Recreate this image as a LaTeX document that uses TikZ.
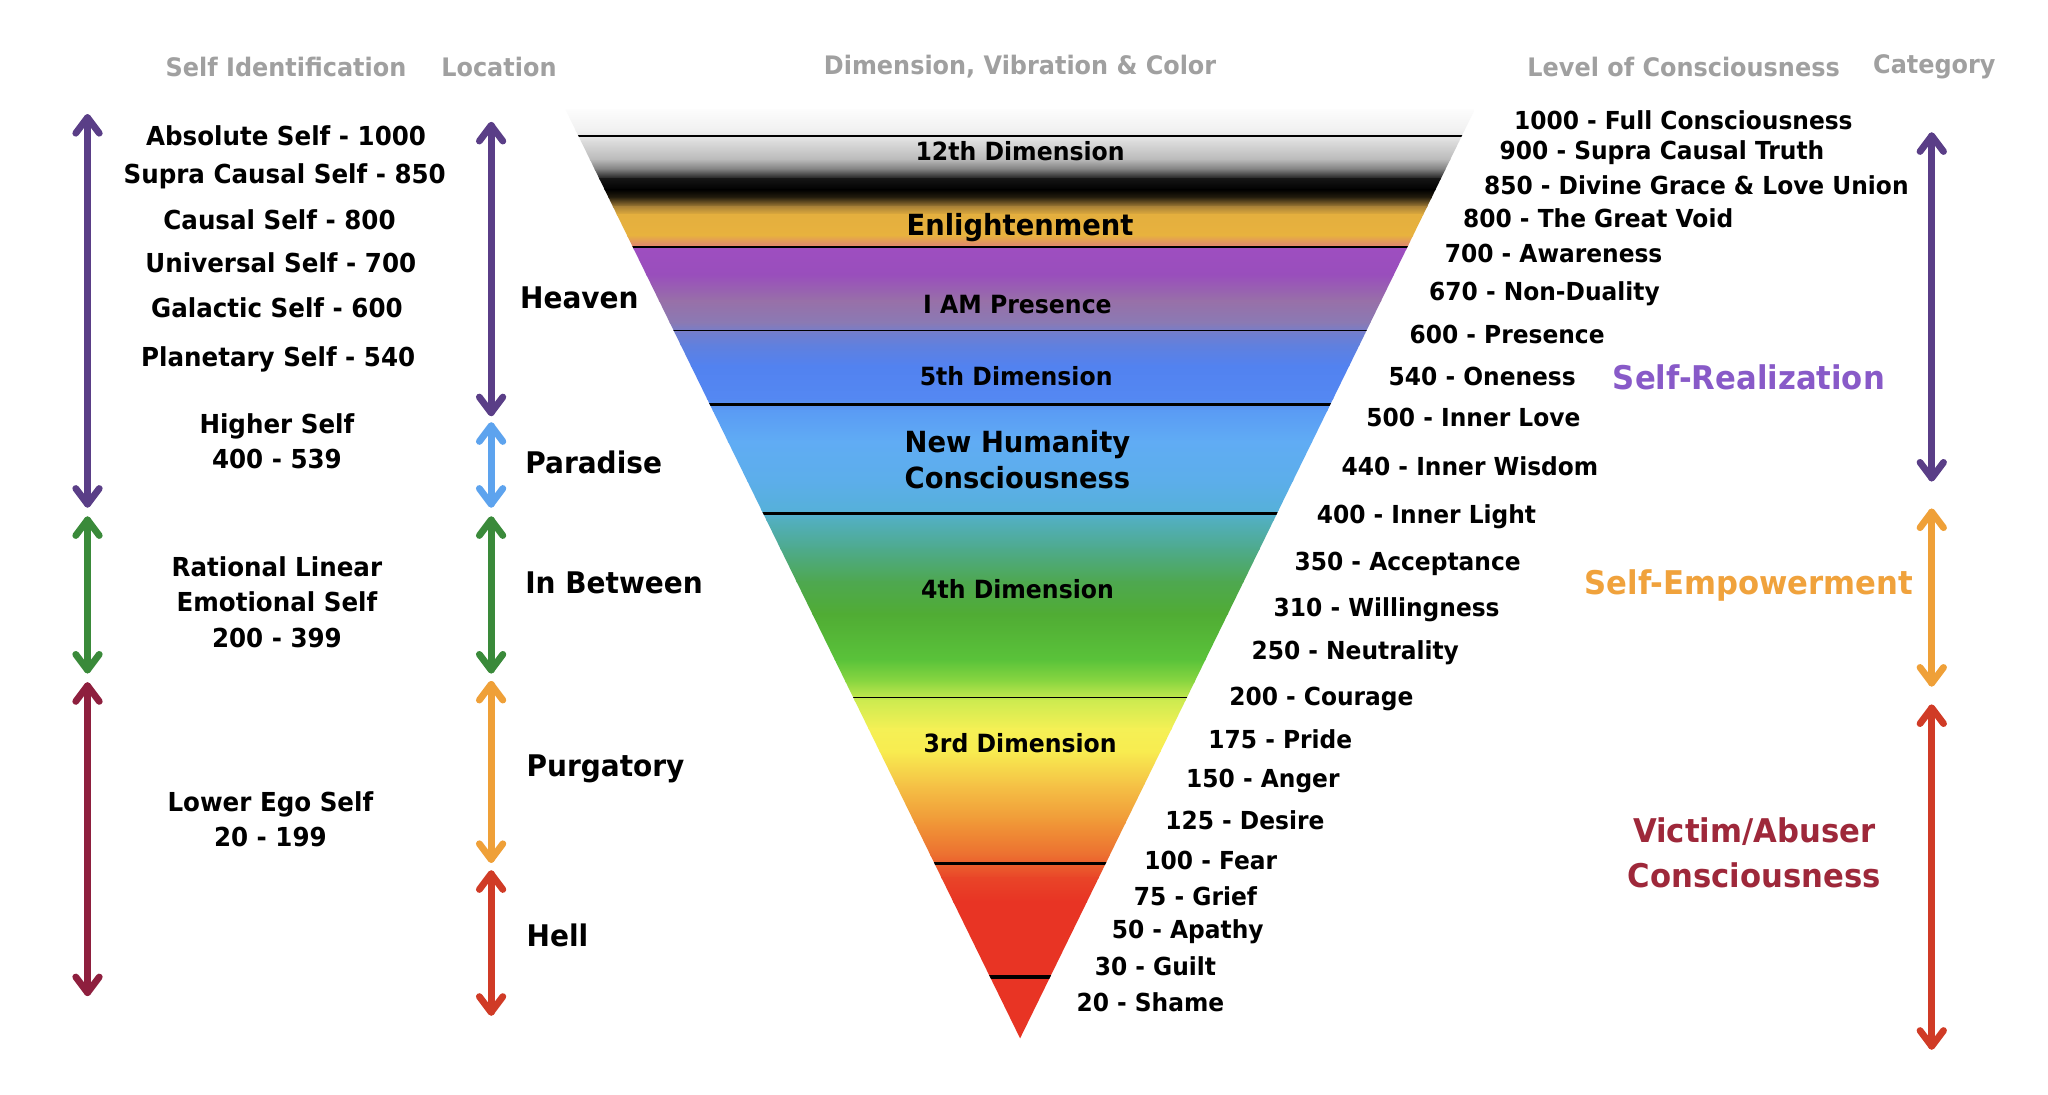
\documentclass[tikz,border=0pt]{standalone}
\usepackage{fontspec}
\setmainfont{DejaVu Sans}[FakeStretch=0.94]
\usetikzlibrary{calc}
\definecolor{hdrgray}{RGB}{160,160,160}
\definecolor{apurple}{RGB}{90,62,135}
\definecolor{agreen}{RGB}{58,138,58}
\definecolor{amaroon}{RGB}{142,31,62}
\definecolor{ablue}{RGB}{93,163,238}
\definecolor{aorange}{RGB}{239,160,56}
\definecolor{ared}{RGB}{208,59,38}
\definecolor{cpurple}{RGB}{136,90,200}
\definecolor{corange}{RGB}{240,162,60}
\definecolor{cmaroon}{RGB}{158,40,58}
% gradient stops
\definecolor{s01}{RGB}{255,255,255}
\definecolor{s02}{RGB}{240,240,240}
\definecolor{s03}{RGB}{220,220,220}
\definecolor{s04}{RGB}{185,185,185}
\definecolor{s05}{RGB}{120,120,120}
\definecolor{s06}{RGB}{20,20,20}
\definecolor{s07}{RGB}{0,0,0}
\definecolor{s08}{RGB}{40,32,15}
\definecolor{s09}{RGB}{170,130,55}
\definecolor{s10}{RGB}{228,175,62}
\definecolor{s11}{RGB}{232,178,62}
\definecolor{s12}{RGB}{222,130,115}
\definecolor{s13}{RGB}{158,78,192}
\definecolor{s14}{RGB}{153,78,188}
\definecolor{s15}{RGB}{152,112,168}
\definecolor{s16}{RGB}{138,122,180}
\definecolor{s17}{RGB}{112,126,208}
\definecolor{s18}{RGB}{96,128,222}
\definecolor{s19}{RGB}{82,130,240}
\definecolor{s20}{RGB}{84,136,242}
\definecolor{s21}{RGB}{90,155,244}
\definecolor{s22}{RGB}{96,172,244}
\definecolor{s23}{RGB}{92,174,234}
\definecolor{s24}{RGB}{86,176,218}
\definecolor{s25}{RGB}{82,175,190}
\definecolor{s26}{RGB}{78,170,140}
\definecolor{s27}{RGB}{78,168,80}
\definecolor{s28}{RGB}{80,172,52}
\definecolor{s29}{RGB}{90,195,58}
\definecolor{s30}{RGB}{140,215,65}
\definecolor{s31}{RGB}{205,235,80}
\definecolor{s32}{RGB}{245,240,85}
\definecolor{s33}{RGB}{248,236,80}
\definecolor{s34}{RGB}{245,195,70}
\definecolor{s35}{RGB}{240,150,55}
\definecolor{s36}{RGB}{236,110,48}
\definecolor{s37}{RGB}{233,68,40}
\definecolor{s38}{RGB}{232,52,36}
\newcommand\band[4]{\shade[top color=#3,bottom color=#4] (420,#1) rectangle (1140,{#2+0.7});}
% double arrow: shaft between two named coordinates plus chevron heads at both
\newcommand\dblarrow[3]{%
  \draw[shaft, #1] (#2) -- (#3);
  \draw[chev, #1] ($(#2)+(-9,12)$) -- (#2) -- ($(#2)+(9,12)$);
  \draw[chev, #1] ($(#3)+(-9,-12)$) -- (#3) -- ($(#3)+(9,-12)$);
}
\tikzset{
  lab/.style={font=\fontsize{20}{27}\selectfont\bfseries, inner sep=0pt, align=center},
  hdr/.style={font=\fontsize{19.5}{22}\selectfont\bfseries, text=hdrgray, inner sep=0pt},
  loc/.style={font=\fontsize{22.8}{26}\selectfont\bfseries, anchor=west, inner sep=0pt},
  lvl/.style={font=\fontsize{19}{22}\selectfont\bfseries, anchor=west, inner sep=0pt},
  tri/.style={font=\fontsize{19.2}{22}\selectfont\bfseries, inner sep=0pt, align=center},
  trib/.style={font=\fontsize{22.3}{28}\selectfont\bfseries, inner sep=0pt, align=center},
  cat/.style={font=\fontsize{25}{34}\selectfont\bfseries, inner sep=0pt, align=center},
  shaft/.style={line width=5.2pt, line cap=round},
  chev/.style={line width=5.2pt, line cap=round, line join=round},
  sep/.style={line width=#1, black},
}
\begin{document}
\begin{tikzpicture}[x=1pt,y=-1pt]
\fill[white] (0,0) rectangle (1568,838);
\useasboundingbox (0,0) rectangle (1568,838);
% triangle
\coordinate (tl) at (433,84);
\coordinate (tr) at (1129,84);
\coordinate (ap) at (781,795);
\begin{scope}
\clip (tl) -- (tr) -- (ap) -- cycle;
\band{80}{100}{s01}{s02}
\band{100}{108}{s02}{s03}
\band{108}{122}{s03}{s04}
\band{122}{130}{s04}{s05}
\band{130}{137}{s05}{s06}
\band{137}{145}{s06}{s07}
\band{145}{151}{s07}{s08}
\band{151}{158}{s08}{s09}
\band{158}{164}{s09}{s10}
\band{164}{180}{s10}{s11}
\band{180}{188}{s11}{s12}
\band{188}{190}{s12}{s13}
\band{190}{210}{s13}{s14}
\band{210}{230}{s14}{s15}
\band{230}{247}{s15}{s16}
\band{247}{255}{s16}{s17}
\band{255}{264}{s17}{s18}
\band{264}{280}{s18}{s19}
\band{280}{305}{s19}{s20}
\band{305}{314}{s20}{s21}
\band{314}{338}{s21}{s22}
\band{338}{368}{s22}{s23}
\band{368}{390}{s23}{s24}
\band{390}{398}{s24}{s25}
\band{398}{420}{s25}{s26}
\band{420}{445}{s26}{s27}
\band{445}{470}{s27}{s28}
\band{470}{505}{s28}{s29}
\band{505}{522}{s29}{s30}
\band{522}{536}{s30}{s31}
\band{536}{558}{s31}{s32}
\band{558}{575}{s32}{s33}
\band{575}{600}{s33}{s34}
\band{600}{630}{s34}{s35}
\band{630}{655}{s35}{s36}
\band{655}{672}{s36}{s37}
\band{672}{690}{s37}{s38}
\band{690}{800}{s38}{s38}
\coordinate (h1a) at (420,104); \coordinate (h1b) at (1140,104);
\coordinate (h2a) at (420,189); \coordinate (h2b) at (1140,189);
\coordinate (h3a) at (420,253); \coordinate (h3b) at (1140,253);
\coordinate (h4a) at (420,310); \coordinate (h4b) at (1140,310);
\coordinate (h5a) at (420,393); \coordinate (h5b) at (1140,393);
\coordinate (h6a) at (420,534); \coordinate (h6b) at (1140,534);
\coordinate (h7a) at (420,661); \coordinate (h7b) at (1140,661);
\coordinate (h8a) at (420,748); \coordinate (h8b) at (1140,748);
\draw[sep=2pt] (h1a) -- (h1b);
\draw[sep=1.4pt] (h2a) -- (h2b);
\draw[sep=1.4pt] (h3a) -- (h3b);
\draw[sep=2.4pt] (h4a) -- (h4b);
\draw[sep=2.4pt] (h5a) -- (h5b);
\draw[sep=1.4pt] (h6a) -- (h6b);
\draw[sep=2.4pt] (h7a) -- (h7b);
\draw[sep=2.4pt] (h8a) -- (h8b);
\end{scope}
% triangle labels
\node[tri] (d12) at (781,116) {12th Dimension};
\node[trib] (enl) at (781,174) {Enlightenment};
\node[tri] (iam) at (779,233) {I AM Presence};
\node[tri] (d5) at (778,288) {5th Dimension};
\node[trib] (nhc) at (779,352) {New Humanity\\Consciousness};
\node[tri] (d4) at (779,451) {4th Dimension};
\node[tri] (d3) at (781,569) {3rd Dimension};
% headers
\node[hdr] (hself) at (219,51) {Self Identification};
\node[hdr] (hloc) at (382,51) {Location};
\node[hdr] (hdim) at (781,51) {Dimension, Vibration \& Color};
\node[hdr] (hlvl) at (1289,51) {Level of Consciousness};
\node[hdr] (hcat) at (1481,51) {Category};
% self identification
\node[lab] (s1) at (219,104) {Absolute Self - 1000};
\node[lab] (s2) at (218,135) {Supra Causal Self - 850};
\node[lab] (s3) at (214,168) {Causal Self - 800};
\node[lab] (s4) at (215,201) {Universal Self - 700};
\node[lab] (s5) at (212,236) {Galactic Self - 600};
\node[lab] (s6) at (213,275) {Planetary Self - 540};
\node[lab] (s7) at (212,338) {Higher Self\\400 - 539};
\node[lab] (s8) at (212,461) {Rational Linear\\Emotional Self\\200 - 399};
\node[lab] (s9) at (207,627) {Lower Ego Self\\20 - 199};
% locations
\node[loc] (l1) at (398,228) {Heaven};
\node[loc] (l2) at (402,354) {Paradise};
\node[loc] (l3) at (402,446) {In Between};
\node[loc] (l4) at (403,589) {Purgatory};
\node[loc] (l5) at (403,716) {Hell};
% levels
\node[lvl] (v1000) at (1159,92) {1000 - Full Consciousness};
\node[lvl] (v900) at (1148,117) {900 - Supra Causal Truth};
\node[lvl] (v850) at (1136,142) {850 - Divine Grace \& Love Union};
\node[lvl] (v800) at (1120,167) {800 - The Great Void};
\node[lvl] (v700) at (1106,194) {700 - Awareness};
\node[lvl] (v670) at (1094,225) {670 - Non-Duality};
\node[lvl] (v600) at (1079,256) {600 - Presence};
\node[lvl] (v540) at (1063,288) {540 - Oneness};
\node[lvl] (v500) at (1046,320) {500 - Inner Love};
\node[lvl] (v440) at (1027,357) {440 - Inner Wisdom};
\node[lvl] (v400) at (1008,396) {400 - Inner Light};
\node[lvl] (v350) at (991,432) {350 - Acceptance};
\node[lvl] (v310) at (975,467) {310 - Willingness};
\node[lvl] (v250) at (958,500) {250 - Neutrality};
\node[lvl] (v200) at (941,535) {200 - Courage};
\node[lvl] (v175) at (925,566) {175 - Pride};
\node[lvl] (v150) at (908,598) {150 - Anger};
\node[lvl] (v125) at (892,628) {125 - Desire};
\node[lvl] (v100) at (876,659) {100 - Fear};
\node[lvl] (v75) at (868,686) {75 - Grief};
\node[lvl] (v50) at (851,713) {50 - Apathy};
\node[lvl] (v30) at (838,740) {30 - Guilt};
\node[lvl] (v20) at (824,767) {20 - Shame};
% categories
\node[cat, text=cpurple] (c1) at (1339,289) {Self-Realization};
\node[cat, text=corange] (c2) at (1339,448) {Self-Empowerment};
\node[cat, text=cmaroon] (c3) at (1343,653) {Victim/Abuser\\Consciousness};
% arrows: left column
\coordinate (a1t) at (67,90);  \coordinate (a1b) at (67,386);
\coordinate (a2t) at (67,398); \coordinate (a2b) at (67,513);
\coordinate (a3t) at (67,525); \coordinate (a3b) at (67,760);
\dblarrow{apurple}{a1t}{a1b}
\dblarrow{agreen}{a2t}{a2b}
\dblarrow{amaroon}{a3t}{a3b}
% arrows: location
\coordinate (b1t) at (376,96);  \coordinate (b1b) at (376,316);
\coordinate (b2t) at (376,326); \coordinate (b2b) at (376,386);
\coordinate (b3t) at (376,398); \coordinate (b3b) at (376,513);
\coordinate (b4t) at (376,524); \coordinate (b4b) at (376,658);
\coordinate (b5t) at (376,669); \coordinate (b5b) at (376,775);
\dblarrow{apurple}{b1t}{b1b}
\dblarrow{ablue}{b2t}{b2b}
\dblarrow{agreen}{b3t}{b3b}
\dblarrow{aorange}{b4t}{b4b}
\dblarrow{ared}{b5t}{b5b}
% arrows: category
\coordinate (c1t) at (1479,104); \coordinate (c1b) at (1479,366);
\coordinate (c2t) at (1479,392); \coordinate (c2b) at (1479,523);
\coordinate (c3t) at (1479,542); \coordinate (c3b) at (1479,801);
\dblarrow{apurple}{c1t}{c1b}
\dblarrow{aorange}{c2t}{c2b}
\dblarrow{ared}{c3t}{c3b}
\end{tikzpicture}
\end{document}
